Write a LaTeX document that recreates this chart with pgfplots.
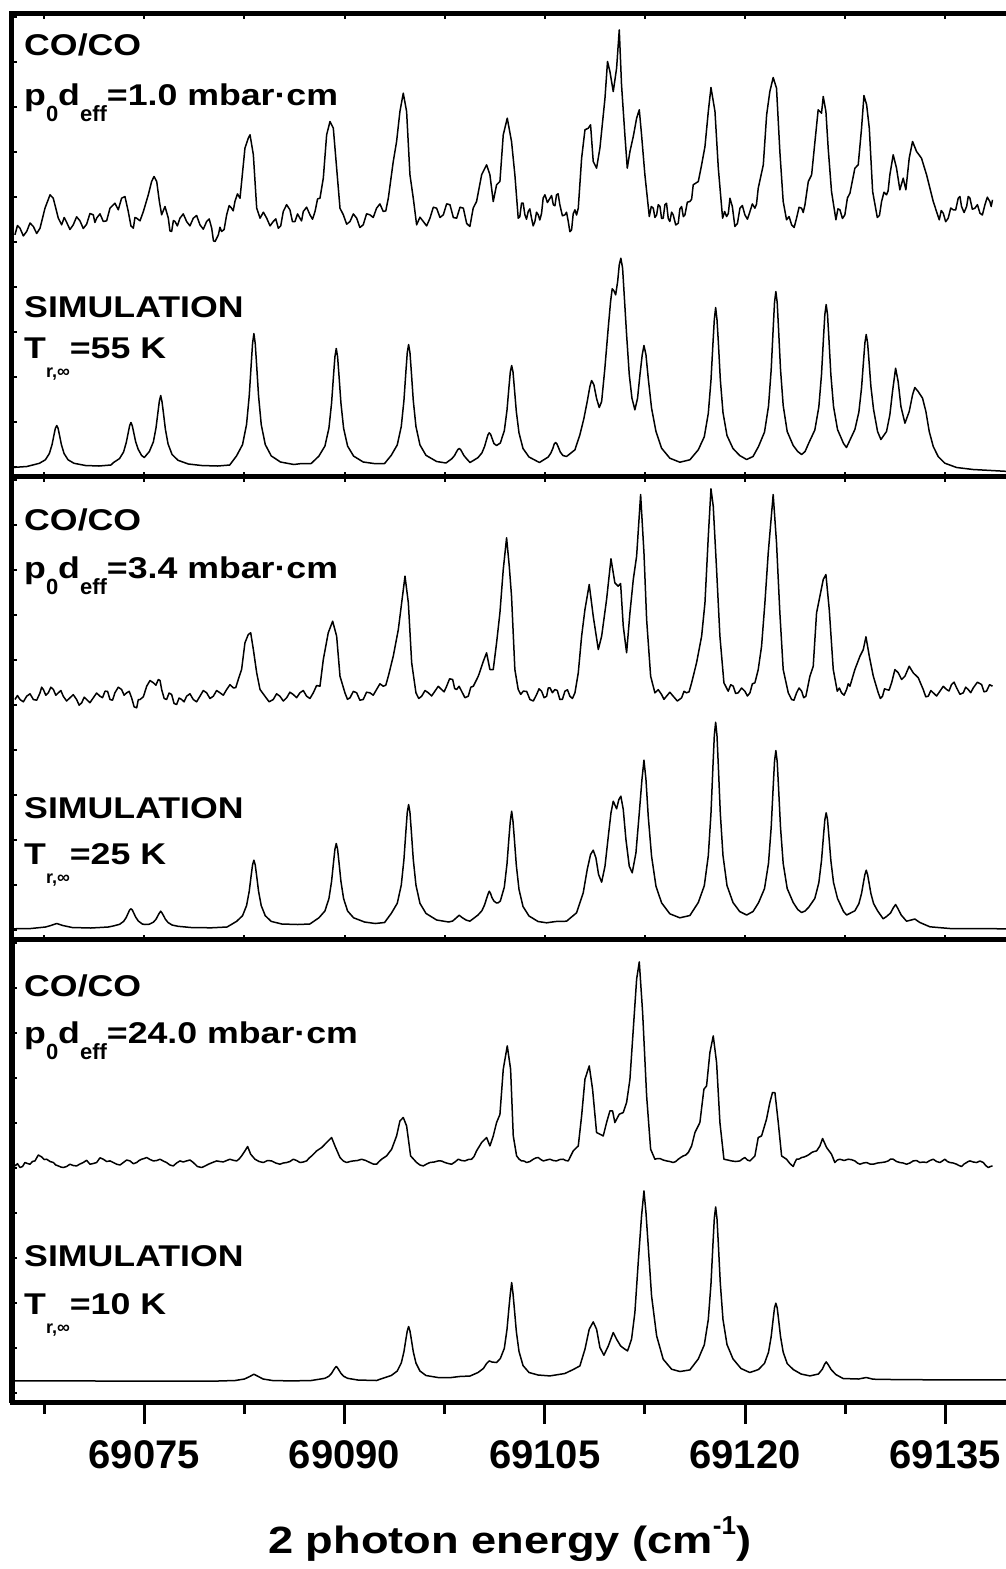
\documentclass[border=0pt]{standalone}
\usepackage{fontspec}
\setmainfont{Liberation Sans}
\usepackage{graphicx}
\usepackage{pgfplots}
\usepackage{pgfplotstable}
\pgfplotsset{compat=1.18}

% x: two-photon energy minus 69000 cm^-1; y: signal, offset for stacking
% --- CO/CO, p0 deff = 1.0 mbar cm
\pgfplotstableread[row sep=\\]{x y\\
65.31 241.7\\ 65.50 251\\ 65.69 248.3\\ 65.94 240.6\\ 66.19 245\\ 66.44 253.5\\ 66.69 250\\ 66.94 243\\ 67.19 248.3\\ 67.56 268.3\\
67.94 281.7\\ 68.18 278.3\\ 68.56 258.3\\ 68.81 251.7\\ 69.00 259\\ 69.18 254.3\\ 69.43 247\\ 69.68 251.7\\ 69.93 259.7\\ 70.18 255.7\\
70.43 248\\ 70.68 252.3\\ 70.93 263\\ 71.18 261.7\\ 71.30 254\\ 71.43 258.3\\ 71.68 262.7\\ 71.93 255\\ 72.18 255.7\\ 72.43 268.3\\
72.80 273.3\\ 73.05 266.7\\ 73.30 278.3\\ 73.55 280\\ 73.80 265\\ 74.00 250.6\\ 74.18 248.3\\ 74.30 259\\ 74.43 258.3\\ 74.68 255.7\\
74.93 265\\ 75.30 281.7\\ 75.55 295\\ 75.73 300\\ 75.93 295\\ 76.13 275\\ 76.30 261.7\\ 76.55 270\\ 76.80 258.3\\ 76.92 245.6\\
77.05 245\\ 77.18 256\\ 77.30 255\\ 77.48 250.6\\ 77.67 258.3\\ 77.92 262.6\\ 78.17 255\\ 78.42 250.6\\ 78.67 258.3\\ 78.92 261\\
79.17 251.7\\ 79.42 247.3\\ 79.67 255\\ 79.86 257.6\\ 80.05 248.3\\ 80.18 235.7\\ 80.30 235\\ 80.55 241.7\\ 80.67 249.3\\ 80.79 245\\
80.98 247\\ 81.17 261.7\\ 81.36 271\\ 81.54 268.3\\ 81.66 265.6\\ 81.79 275\\ 81.98 282.6\\ 82.17 278.3\\ 82.54 328.3\\ 82.79 338.3\\
82.92 341.7\\ 83.17 321.7\\ 83.42 268.3\\ 83.67 258.3\\ 83.92 264.3\\ 84.17 258.3\\ 84.42 250.6\\ 84.66 255\\ 84.85 257.6\\ 85.04 248.3\\
85.22 250.6\\ 85.41 265\\ 85.66 271.8\\ 85.91 266.7\\ 86.10 254.8\\ 86.29 255\\ 86.48 262.6\\ 86.66 258.3\\ 86.78 255.6\\ 86.91 265\\
87.16 269.3\\ 87.41 261.7\\ 87.60 257.3\\ 87.79 265\\ 87.98 277.6\\ 88.16 278.3\\ 88.41 298.3\\ 88.66 341.7\\ 88.91 355\\ 89.16 348.3\\
89.41 308.3\\ 89.66 268.3\\ 89.91 261.7\\ 90.16 252.3\\ 90.41 255\\ 90.66 262.6\\ 90.91 258.3\\ 91.15 249\\ 91.40 251.7\\ 91.65 262.7\\
91.90 261.7\\ 92.15 259\\ 92.40 268.3\\ 92.65 272.6\\ 92.90 265\\ 93.09 265.6\\ 93.28 278.3\\ 93.65 315\\ 93.90 335\\ 94.15 365\\
94.40 383.3\\ 94.65 365\\ 94.90 301.7\\ 95.15 278.3\\ 95.40 251.7\\ 95.65 259.3\\ 95.90 255\\ 96.15 250.6\\ 96.40 258.3\\ 96.65 269.3\\
96.90 268.3\\ 97.15 259\\ 97.40 261.7\\ 97.65 272.7\\ 97.90 271.7\\ 98.15 259\\ 98.40 258.3\\ 98.65 269.3\\ 98.90 268.3\\ 99.15 253\\
99.39 250\\ 99.64 268.5\\ 99.89 275\\ 100.27 301.7\\ 100.64 311.7\\ 100.89 301.7\\ 101.14 275\\ 101.39 291.7\\ 101.64 295\\ 101.89 341.7\\
102.19 358.3\\ 102.51 335\\ 102.76 301.7\\ 103.01 258.3\\ 103.13 259.8\\ 103.26 273.3\\ 103.38 273.5\\ 103.51 261.7\\ 103.63 257.3\\ 103.76 265\\
103.88 267.6\\ 104.01 258.3\\ 104.13 250.6\\ 104.26 255\\ 104.38 264.3\\ 104.51 261.7\\ 104.63 256.5\\ 104.76 263.3\\ 104.88 278.5\\ 105.01 281.7\\
105.20 274\\ 105.39 278.3\\ 105.51 281\\ 105.64 271.7\\ 105.76 270.7\\ 105.88 281.7\\ 106.00 282.7\\ 106.13 271.7\\ 106.32 260.7\\ 106.51 261.7\\
106.63 264.3\\ 106.76 255\\ 106.88 244.8\\ 107.01 246.7\\ 107.13 262.7\\ 107.26 266.7\\ 107.38 261.5\\ 107.51 268.3\\ 107.76 318.3\\ 108.01 346.7\\
108.26 348.3\\ 108.43 351.7\\ 108.63 315\\ 108.88 308.3\\ 109.13 328.3\\ 109.51 378.3\\ 109.70 415\\ 109.88 405\\ 110.13 385\\ 110.38 408.3\\
110.58 446.7\\ 110.75 391.7\\ 111.00 341.7\\ 111.18 308.3\\ 111.38 325\\ 111.63 340\\ 111.88 358.3\\ 112.08 366.7\\ 112.25 341.7\\ 112.50 301.7\\
112.83 260\\ 112.98 270\\ 113.13 268.3\\ 113.25 259\\ 113.38 261.7\\ 113.50 271.8\\ 113.63 270\\ 113.75 258\\ 113.87 258.3\\ 114.00 271.8\\
114.12 273.3\\ 114.25 258\\ 114.37 255\\ 114.50 264.3\\ 114.62 261.7\\ 114.81 251.5\\ 115.00 253.3\\ 115.12 267.6\\ 115.25 270\\ 115.38 259.8\\
115.50 261.7\\ 115.68 274.3\\ 115.87 275\\ 116.00 277.3\\ 116.12 291.7\\ 116.50 295\\ 116.75 311.7\\ 117.00 330\\ 117.25 365\\ 117.45 389\\
117.75 365\\ 118.00 308.3\\ 118.32 258.3\\ 118.47 265\\ 118.62 260\\ 118.75 263\\ 118.87 278.3\\ 119.05 270\\ 119.24 250\\ 119.43 253\\
119.62 268.3\\ 119.80 271\\ 119.99 261.7\\ 120.18 257.3\\ 120.37 265\\ 120.55 272.6\\ 120.74 268.3\\ 120.86 272.3\\ 120.99 288.3\\ 121.37 311.7\\
121.62 361.7\\ 121.86 385\\ 122.11 399\\ 122.36 388.3\\ 122.61 325\\ 122.86 275\\ 123.11 256.7\\ 123.30 260\\ 123.49 251.7\\ 123.68 249\\
123.86 258.3\\ 124.05 269.3\\ 124.24 268.3\\ 124.36 264\\ 124.49 271.7\\ 124.74 295\\ 124.99 301.7\\ 125.24 335\\ 125.48 366.7\\ 125.73 363.3\\
125.86 380\\ 126.06 365\\ 126.23 328.3\\ 126.48 285\\ 126.81 256.7\\ 126.96 267.7\\ 127.11 266.7\\ 127.30 258\\ 127.48 261.7\\ 127.67 278.5\\
127.86 283.3\\ 128.23 308.3\\ 128.48 311.7\\ 128.73 348.3\\ 128.91 381\\ 129.11 371.7\\ 129.31 348.3\\ 129.56 285\\ 129.91 259\\ 130.07 261\\
130.23 275\\ 130.41 284.3\\ 130.60 281.7\\ 130.72 285.7\\ 130.85 301.7\\ 131.10 321.7\\ 131.35 308.3\\ 131.60 286.7\\ 131.85 298.3\\ 132.05 286.7\\
132.30 318.3\\ 132.55 335\\ 132.85 325\\ 133.22 318.3\\ 133.60 301.7\\ 134.10 275\\ 134.55 256.7\\ 134.70 266\\ 134.85 263.3\\ 135.03 254.8\\
135.22 258.3\\ 135.41 268.5\\ 135.60 266.7\\ 135.78 266.5\\ 135.97 278.3\\ 136.10 280\\ 136.22 270\\ 136.41 264\\ 136.60 270\\ 136.72 280\\
136.85 278.3\\ 137.03 267.3\\ 137.22 268.3\\ 137.41 271.8\\ 137.60 263.3\\ 137.78 261.5\\ 137.97 271.7\\ 138.15 279.3\\ 138.34 275\\ 138.44 270\\
138.54 276.7\\
}\expA
% --- simulation, T = 55 K
\pgfplotstableread[row sep=\\]{x y\\
65.10 9\\ 66.20 10\\ 67.14 13.2\\ 67.59 16.7\\ 67.89 23\\ 68.09 31.9\\ 68.24 41.9\\ 68.34 48.3\\ 68.44 51\\ 68.54 48.3\\
68.64 41.9\\ 68.79 31.9\\ 68.99 23\\ 69.29 16.7\\ 69.74 13.2\\ 70.60 11\\ 71.60 10.5\\ 72.50 11.5\\ 72.70 14\\ 73.15 18\\
73.45 24.6\\ 73.65 34\\ 73.80 44\\ 73.90 50.7\\ 74.00 54\\ 74.10 50.8\\ 74.20 44.5\\ 74.35 35\\ 74.55 27\\ 74.80 21\\
75.00 19\\ 75.38 25\\ 75.68 34.6\\ 75.88 48.8\\ 76.03 65\\ 76.13 75.5\\ 76.23 81\\ 76.33 74.5\\ 76.43 64\\ 76.58 47.3\\
76.78 32.6\\ 77.08 22\\ 77.53 16.2\\ 78.30 12.5\\ 79.30 11\\ 80.50 10.5\\ 81.40 11.5\\ 81.91 20.6\\ 82.36 31.9\\ 82.66 52\\
82.86 80.5\\ 83.01 112.5\\ 83.11 132.9\\ 83.21 143\\ 83.31 133\\ 83.41 112.5\\ 83.56 80.5\\ 83.76 52\\ 84.06 32\\ 84.51 20.6\\
85.20 14.5\\ 86.20 12\\ 86.80 13\\ 87.50 13\\ 88.08 20.4\\ 88.53 30.4\\ 88.83 48.3\\ 89.03 73.5\\ 89.18 101.9\\ 89.28 119.8\\
89.38 128\\ 89.48 119.8\\ 89.58 101.9\\ 89.73 73.5\\ 89.93 48.3\\ 90.23 30.4\\ 90.68 20.4\\ 91.40 14.5\\ 92.20 13\\ 93.00 13\\
93.50 21.2\\ 93.95 31.6\\ 94.25 50\\ 94.45 76\\ 94.60 105.5\\ 94.70 124\\ 94.80 132\\ 94.90 124\\ 95.00 105.5\\ 95.15 76\\
95.35 50\\ 95.65 31.6\\ 96.10 21.2\\ 96.90 15\\ 97.60 13.5\\ 98.04 17.8\\ 98.24 21\\ 98.39 24.7\\ 98.49 27\\ 98.59 28\\
98.69 27\\ 98.79 24.7\\ 98.94 21\\ 99.14 17.8\\ 99.40 14\\ 99.99 18.8\\ 100.29 23.6\\ 100.49 30\\ 100.64 37\\ 100.74 41.5\\
100.84 43.7\\ 100.94 42.3\\ 101.04 38.6\\ 101.19 33\\ 101.39 31\\ 101.67 33.5\\ 101.97 45.8\\ 102.17 66.3\\ 102.32 89.8\\ 102.42 104.8\\
102.52 111\\ 102.62 104.5\\ 102.72 88.8\\ 102.87 64.8\\ 103.07 43.6\\ 103.37 28\\ 103.82 19.5\\ 104.60 14\\ 105.26 19.5\\ 105.46 23.6\\
105.61 28.3\\ 105.71 32.6\\ 105.81 34\\ 105.91 32.6\\ 106.01 29.5\\ 106.16 24.5\\ 106.36 21\\ 106.63 20\\ 107.26 26.7\\ 107.63 41.7\\
107.93 58\\ 108.18 75\\ 108.38 90\\ 108.51 96\\ 108.68 91.7\\ 108.88 78\\ 109.08 69\\ 109.26 75\\ 109.50 108\\ 109.75 148\\
109.93 175\\ 110.05 187.7\\ 110.18 185.7\\ 110.31 181.7\\ 110.46 195\\ 110.58 211.7\\ 110.70 218.3\\ 110.83 208.3\\ 110.95 181.7\\ 111.13 141.7\\
111.33 101.7\\ 111.53 78.3\\ 111.75 66.7\\ 111.95 78.3\\ 112.13 101.7\\ 112.30 121.7\\ 112.43 131\\ 112.58 121.7\\ 112.75 98.3\\ 113.00 68.3\\
113.33 45\\ 113.75 28.3\\ 114.37 18.3\\ 115.12 14.3\\ 115.87 16.7\\ 116.50 26.7\\ 116.95 39.8\\ 117.25 63.2\\ 117.45 96.2\\ 117.60 133.4\\
117.70 157\\ 117.80 169\\ 117.90 157\\ 118.00 135\\ 118.15 97\\ 118.35 64\\ 118.65 41\\ 119.10 28\\ 119.60 21\\ 120.12 17\\
120.60 20\\ 121.01 30\\ 121.46 44.4\\ 121.76 70.3\\ 121.96 106.7\\ 122.11 147.9\\ 122.21 174\\ 122.31 185\\ 122.41 174\\ 122.51 148\\
122.66 107\\ 122.86 71\\ 123.16 45\\ 123.61 31\\ 123.95 25\\ 124.24 22\\ 124.50 25\\ 124.78 33.6\\ 125.23 46.5\\ 125.53 69.6\\
125.73 102\\ 125.88 139\\ 125.98 162\\ 126.08 172\\ 126.18 162\\ 126.28 139\\ 126.43 102\\ 126.63 70\\ 126.93 47\\ 127.38 33\\
127.60 29\\ 128.23 47\\ 128.53 64.5\\ 128.73 88.8\\ 128.88 116\\ 128.98 133.6\\ 129.08 142\\ 129.18 134\\ 129.28 117\\ 129.43 90\\
129.63 67\\ 129.93 45\\ 130.18 37\\ 130.60 45\\ 130.85 61.7\\ 131.05 85\\ 131.28 108.3\\ 131.47 95\\ 131.68 70\\ 131.98 53.3\\
132.30 65\\ 132.55 81.7\\ 132.72 89\\ 132.97 85\\ 133.30 78.3\\ 133.55 65\\ 133.80 45\\ 134.10 30\\ 134.47 20\\ 134.97 13.3\\
135.85 9\\ 137.09 7\\ 139.80 5\\
}\simA
% --- CO/CO, p0 deff = 3.4 mbar cm
\pgfplotstableread[row sep=\\]{x y\\
65.31 240\\ 65.50 244\\ 65.69 240\\ 65.94 237.7\\ 66.19 243.3\\ 66.44 245.7\\ 66.69 240\\ 66.94 239.3\\ 67.19 246.7\\ 67.31 252.3\\
67.44 250\\ 67.62 244.3\\ 67.81 246.7\\ 68.00 252.3\\ 68.19 250\\ 68.37 244.3\\ 68.56 246.7\\ 68.75 249\\ 68.93 243.3\\ 69.18 238.5\\
69.43 241.7\\ 69.68 244.8\\ 69.93 240\\ 70.12 234.3\\ 70.31 236.7\\ 70.50 242.3\\ 70.68 240\\ 70.93 236.8\\ 71.18 241.7\\ 71.43 246.5\\
71.68 243.3\\ 71.87 241.8\\ 72.06 248.3\\ 72.25 248.2\\ 72.43 240\\ 72.62 239.3\\ 72.80 246.7\\ 73.05 252.3\\ 73.30 250\\ 73.49 244.3\\
73.68 246.7\\ 73.87 248.2\\ 74.05 241.7\\ 74.24 232.7\\ 74.43 231.7\\ 74.55 239.8\\ 74.68 240\\ 74.93 242.7\\ 75.18 253.3\\ 75.43 259\\
75.68 256.7\\ 75.87 254.3\\ 76.05 260\\ 76.18 259\\ 76.30 250\\ 76.49 241\\ 76.67 240\\ 76.86 246.5\\ 77.05 245\\ 77.23 236\\
77.42 235\\ 77.61 241.5\\ 77.80 240\\ 77.98 237.7\\ 78.17 243.3\\ 78.42 245.7\\ 78.67 240\\ 78.92 237.7\\ 79.17 243.3\\ 79.42 249\\
79.67 246.7\\ 79.92 241\\ 80.17 243.3\\ 80.42 249\\ 80.67 246.7\\ 80.92 244.3\\ 81.17 250\\ 81.42 254.8\\ 81.67 251.7\\ 81.85 251.8\\
82.04 260\\ 82.29 270\\ 82.54 296.7\\ 82.79 305\\ 82.97 306.7\\ 83.17 290\\ 83.42 266.7\\ 83.67 250\\ 84.04 243.3\\ 84.35 237.7\\
84.66 240\\ 84.91 245.7\\ 85.16 243.3\\ 85.41 238.5\\ 85.66 241.7\\ 85.91 247.3\\ 86.16 245\\ 86.41 241.8\\ 86.66 246.7\\ 86.91 249\\
87.16 243.3\\ 87.41 241\\ 87.66 246.7\\ 87.91 254\\ 88.16 253.3\\ 88.41 280\\ 88.78 306.7\\ 89.11 318.3\\ 89.41 303.3\\ 89.66 263.3\\
90.03 246.7\\ 90.22 240.2\\ 90.41 241.7\\ 90.66 248.2\\ 90.91 246.7\\ 91.15 239.3\\ 91.40 240\\ 91.65 247.3\\ 91.90 246.7\\ 92.15 244.3\\
92.40 250\\ 92.65 255.7\\ 92.90 253.3\\ 93.09 254.3\\ 93.28 263.3\\ 93.65 283.3\\ 94.03 310\\ 94.28 336.7\\ 94.53 363.3\\ 94.78 336.7\\
95.03 276.7\\ 95.35 246.7\\ 95.56 241\\ 95.78 243.3\\ 96.03 249\\ 96.28 246.7\\ 96.52 243.5\\ 96.77 248.3\\ 97.02 253.2\\ 97.27 250\\
97.46 247.7\\ 97.65 253.3\\ 97.87 260.7\\ 98.10 260\\ 98.25 251\\ 98.40 250\\ 98.58 253.2\\ 98.77 248.3\\ 99.02 241.8\\ 99.27 243.3\\
99.46 252.3\\ 99.65 253.3\\ 100.02 263.3\\ 100.40 278.3\\ 100.64 286.7\\ 100.89 270\\ 101.14 270\\ 101.39 296.7\\ 101.64 326.7\\ 101.89 370\\
102.14 401.7\\ 102.34 373.3\\ 102.51 343.3\\ 102.76 270\\ 103.01 250\\ 103.20 245.2\\ 103.39 248.3\\ 103.64 248.2\\ 103.89 240\\ 104.14 238.5\\
104.39 245\\ 104.57 250.7\\ 104.76 248.3\\ 104.95 241.8\\ 105.14 243.3\\ 105.26 251.5\\ 105.39 251.7\\ 105.57 246.8\\ 105.76 250\\ 105.94 249\\
106.13 240\\ 106.32 240.2\\ 106.51 248.3\\ 106.70 249.8\\ 106.88 243.3\\ 107.07 241\\ 107.26 246.7\\ 107.51 266.7\\ 107.76 303.3\\ 108.01 330\\
108.33 355\\ 108.63 323.3\\ 109.01 290\\ 109.26 303.3\\ 109.63 340\\ 109.96 380.7\\ 110.25 356.7\\ 110.50 353.3\\ 110.68 356\\ 110.88 313.3\\
111.13 286.7\\ 111.38 326.7\\ 111.63 360\\ 111.88 383.3\\ 112.18 445\\ 112.43 386.7\\ 112.63 320\\ 112.93 263.3\\ 113.25 246.7\\ 113.50 249.8\\
113.75 245\\ 113.93 240.2\\ 114.12 243.3\\ 114.37 247.3\\ 114.62 243.3\\ 114.93 238.5\\ 115.25 241.7\\ 115.43 248.2\\ 115.62 246.7\\ 115.81 247.7\\
116.00 256.7\\ 116.37 276.7\\ 116.75 303.3\\ 117.00 336.7\\ 117.25 403.3\\ 117.45 450.7\\ 117.62 433.3\\ 117.87 370\\ 118.12 303.3\\ 118.42 256.7\\
118.74 248.3\\ 118.93 254.8\\ 119.12 253.3\\ 119.30 246\\ 119.49 246.7\\ 119.74 251.5\\ 119.99 248.3\\ 120.18 243.5\\ 120.37 246.7\\ 120.55 255.7\\
120.74 256.7\\ 120.99 270\\ 121.24 293.3\\ 121.49 336.7\\ 121.74 386.7\\ 122.11 445\\ 122.36 396.7\\ 122.61 326.7\\ 122.86 270\\ 123.24 246.7\\
123.49 240\\ 123.67 239.3\\ 123.86 246.7\\ 124.05 251.5\\ 124.24 248.3\\ 124.40 241.8\\ 124.56 243.3\\ 124.86 263.3\\ 125.11 273.3\\ 125.36 326.7\\
125.61 343.3\\ 125.86 360\\ 126.06 365\\ 126.31 330\\ 126.61 270\\ 126.91 248.3\\ 127.07 251.5\\ 127.23 246.7\\ 127.42 244.3\\ 127.61 250\\
127.73 255.7\\ 127.86 253.3\\ 128.23 270\\ 128.61 283.3\\ 128.86 290\\ 129.06 302.7\\ 129.31 283.3\\ 129.61 263.3\\ 129.98 246.7\\ 130.14 241\\
130.30 243.3\\ 130.45 250.7\\ 130.60 250\\ 130.79 249.3\\ 130.98 256.7\\ 131.23 270\\ 131.48 266.7\\ 131.73 260\\ 131.98 263.3\\ 132.30 273.3\\
132.60 266.7\\ 132.98 261.7\\ 133.35 250\\ 133.54 242.7\\ 133.73 243.3\\ 133.92 249\\ 134.10 246.7\\ 134.35 243.5\\ 134.60 248.3\\ 134.85 253.2\\
135.10 250\\ 135.28 248.5\\ 135.47 255\\ 135.66 257.3\\ 135.85 251.7\\ 136.10 245.2\\ 136.35 246.7\\ 136.53 252.3\\ 136.72 250\\ 136.91 246.8\\
137.10 251.7\\ 137.41 257.3\\ 137.72 255\\ 137.90 247.7\\ 138.09 248.3\\ 138.32 254.8\\ 138.54 253.3\\
}\expB
% --- simulation, T = 25 K
\pgfplotstableread[row sep=\\]{x y\\
65.10 10.7\\ 66.50 11\\ 67.60 12.5\\ 68.00 14\\ 68.44 16\\ 68.90 14\\ 69.60 12\\ 71.00 11.5\\ 72.30 12.5\\ 72.70 13.6\\
73.15 15.2\\ 73.45 18.1\\ 73.65 22.1\\ 73.80 26.6\\ 73.90 29.5\\ 74.00 30.7\\ 74.10 29.6\\ 74.20 26.8\\ 74.35 22.5\\ 74.55 18.5\\
74.85 15.5\\ 75.05 15\\ 75.38 15.3\\ 75.68 17.3\\ 75.88 20.3\\ 76.03 24.1\\ 76.13 26.5\\ 76.23 28.3\\ 76.33 26.5\\ 76.43 24.1\\
76.58 20.3\\ 76.78 17\\ 77.08 14.5\\ 77.53 13.2\\ 78.50 12\\ 80.00 11.7\\ 81.20 12.5\\ 81.91 18.1\\ 82.36 23.8\\ 82.66 33.9\\
82.86 48.2\\ 83.01 64.4\\ 83.11 74.6\\ 83.21 79.3\\ 83.31 74.6\\ 83.41 64.4\\ 83.56 48.2\\ 83.76 33.9\\ 84.06 23.8\\ 84.51 18.1\\
85.30 15.5\\ 86.50 15\\ 87.40 15.5\\ 88.08 21.7\\ 88.53 28.5\\ 88.83 40.9\\ 89.03 58.2\\ 89.18 77.8\\ 89.28 90.2\\ 89.38 96\\
89.48 90.2\\ 89.58 77.8\\ 89.73 58.2\\ 89.93 40.9\\ 90.23 28.5\\ 90.68 21.7\\ 91.50 17.5\\ 92.30 16\\ 93.00 17\\ 93.50 26.1\\
93.95 36.2\\ 94.25 54.4\\ 94.45 80\\ 94.60 108.9\\ 94.70 127.2\\ 94.80 135\\ 94.90 127.2\\ 95.00 108.9\\ 95.15 80\\ 95.35 54.4\\
95.65 36.2\\ 96.10 26.1\\ 96.90 19.5\\ 97.80 17.5\\ 98.10 18.5\\ 98.40 22\\ 98.59 24.3\\ 98.80 22\\ 99.10 19.5\\ 99.39 18.3\\
99.99 24.4\\ 100.29 28.8\\ 100.49 34.6\\ 100.64 41\\ 100.74 45.1\\ 100.84 48.3\\ 100.94 46\\ 101.04 42\\ 101.19 38.5\\ 101.39 36.5\\
101.51 36.7\\ 101.67 38.5\\ 101.97 52.4\\ 102.17 75.7\\ 102.32 102.2\\ 102.42 118.7\\ 102.52 128.3\\ 102.62 118\\ 102.72 101\\ 102.87 74\\
103.07 50\\ 103.37 33\\ 103.82 23.5\\ 104.50 18\\ 105.14 16.7\\ 105.81 18\\ 106.63 18.3\\ 107.38 26.7\\ 107.88 46.7\\ 108.18 70\\
108.43 85\\ 108.63 89.3\\ 108.83 81.7\\ 109.03 65\\ 109.26 57.3\\ 109.51 73.3\\ 109.76 103.3\\ 109.96 126.7\\ 110.13 138.3\\ 110.38 130.7\\
110.55 140\\ 110.70 143.3\\ 110.88 130\\ 111.08 100\\ 111.33 73.3\\ 111.55 66.7\\ 111.83 86.7\\ 112.08 126.7\\ 112.28 160\\ 112.43 179.3\\
112.58 160\\ 112.75 123.3\\ 113.00 83.3\\ 113.33 53.3\\ 113.75 36.7\\ 114.37 25.7\\ 115.12 21.7\\ 115.87 24\\ 116.50 37\\ 116.95 53.8\\
117.25 83.8\\ 117.45 126.1\\ 117.60 173.9\\ 117.70 204.1\\ 117.80 217.3\\ 117.90 204\\ 118.00 174\\ 118.15 126\\ 118.35 84\\ 118.65 54\\
119.10 37\\ 119.60 28\\ 120.12 24.5\\ 120.60 28\\ 121.01 36.7\\ 121.46 50.9\\ 121.76 76.3\\ 121.96 112.1\\ 122.11 152.5\\ 122.21 178.1\\
122.31 189\\ 122.41 178\\ 122.51 152.5\\ 122.66 112\\ 122.86 76\\ 123.16 51\\ 123.61 37\\ 123.95 30\\ 124.24 27\\ 124.50 28.5\\
124.78 32.4\\ 125.23 41.1\\ 125.53 56.8\\ 125.73 79\\ 125.88 104\\ 125.98 119.8\\ 126.08 126.7\\ 126.18 119.8\\ 126.28 104\\ 126.43 79\\
126.63 57\\ 126.93 41\\ 127.38 28\\ 127.61 24.5\\ 128.23 28.7\\ 128.53 35.9\\ 128.73 46.1\\ 128.88 57.6\\ 128.98 64.9\\ 129.08 69.3\\
129.18 65\\ 129.28 57.6\\ 129.43 46\\ 129.63 36\\ 129.93 28.7\\ 130.35 20.7\\ 130.60 23\\ 130.90 26.5\\ 131.10 31.5\\ 131.28 35\\
131.45 31\\ 131.70 24.5\\ 132.10 18.3\\ 132.45 19.5\\ 132.72 20.5\\ 133.10 17\\ 133.85 12.7\\ 135.35 11\\ 139.80 10.7\\
}\simB
% --- CO/CO, p0 deff = 24.0 mbar cm
\pgfplotstableread[row sep=\\]{x y\\
65.31 236.6\\ 65.50 238.8\\ 65.69 235\\ 65.88 236\\ 66.06 240\\ 66.25 239\\ 66.44 238.3\\ 66.62 241\\ 66.81 241.6\\ 67.06 247.5\\
67.31 245.6\\ 67.50 243\\ 67.69 243.3\\ 67.94 241\\ 68.19 240\\ 68.37 237.5\\ 68.56 236.6\\ 68.75 235.5\\ 68.93 235\\ 69.18 236\\
69.43 238.3\\ 69.68 237\\ 69.93 236.6\\ 70.18 238.5\\ 70.43 240\\ 70.68 242.2\\ 70.93 238.3\\ 71.18 239\\ 71.43 240\\ 71.68 244.7\\
71.93 243.3\\ 72.18 241\\ 72.43 241.6\\ 72.68 240\\ 72.93 238.3\\ 73.18 237.5\\ 73.43 240\\ 73.68 242.5\\ 73.93 241.6\\ 74.18 238.8\\
74.43 240\\ 74.61 242\\ 74.80 243.3\\ 74.99 244\\ 75.18 245\\ 75.43 243\\ 75.68 241.6\\ 75.93 242\\ 76.18 243.3\\ 76.42 241.5\\
76.67 240\\ 76.92 237.5\\ 77.17 236.6\\ 77.42 239.5\\ 77.67 241.6\\ 77.92 240.5\\ 78.17 241.6\\ 78.42 242.5\\ 78.67 240\\ 78.98 236\\
79.30 235\\ 79.55 236.5\\ 79.80 238.3\\ 80.11 240\\ 80.42 241.6\\ 80.67 241\\ 80.92 240.6\\ 81.17 242\\ 81.42 243.3\\ 81.67 242.2\\
81.92 241.6\\ 82.10 243.5\\ 82.29 246.6\\ 82.54 251.6\\ 82.74 256\\ 82.97 248.3\\ 83.29 243.3\\ 83.60 241\\ 83.92 240\\ 84.23 242\\
84.54 241.6\\ 84.85 239.5\\ 85.16 238.3\\ 85.41 239.5\\ 85.66 240\\ 85.91 241\\ 86.16 243.3\\ 86.41 242\\ 86.66 240\\ 86.91 240.5\\
87.16 241.6\\ 87.35 244.5\\ 87.54 246.6\\ 87.91 251.6\\ 88.29 255\\ 88.66 260\\ 89.03 265\\ 89.28 256.6\\ 89.66 245\\ 89.91 241.5\\
90.16 240\\ 90.41 241\\ 90.66 241.6\\ 90.97 242\\ 91.28 243.3\\ 91.59 242\\ 91.90 240\\ 92.15 238.5\\ 92.40 238.3\\ 92.59 241\\
92.78 243.3\\ 93.15 246.6\\ 93.53 253.3\\ 93.90 266.6\\ 94.15 281.6\\ 94.40 285\\ 94.65 276.6\\ 94.95 246.6\\ 95.40 240\\ 95.65 237.5\\
95.90 236.6\\ 96.15 238.5\\ 96.40 240\\ 96.71 240.5\\ 97.02 241.6\\ 97.27 241.5\\ 97.52 240\\ 97.77 239\\ 98.02 238.3\\ 98.27 240.5\\
98.52 243.3\\ 98.77 242\\ 99.02 241.6\\ 99.27 243\\ 99.52 243.3\\ 99.70 246\\ 99.89 251.6\\ 100.27 260\\ 100.64 265\\ 100.89 256.6\\
101.14 266.6\\ 101.39 280\\ 101.64 288\\ 101.89 333.3\\ 102.19 356.6\\ 102.44 333.3\\ 102.64 266.6\\ 102.89 246.6\\ 103.07 243.5\\ 103.26 241.6\\
103.45 241.5\\ 103.64 240\\ 103.89 241\\ 104.14 243.3\\ 104.32 244.5\\ 104.51 245\\ 104.70 243\\ 104.89 241.6\\ 105.14 242.5\\ 105.39 243.3\\
105.63 242\\ 105.88 241.6\\ 106.13 243\\ 106.38 243.3\\ 106.57 242\\ 106.76 241.6\\ 107.13 251.6\\ 107.51 256.6\\ 107.76 286.6\\ 108.01 323.3\\
108.33 336.6\\ 108.58 313.3\\ 108.88 270\\ 109.13 268.3\\ 109.38 266.6\\ 109.63 280\\ 109.88 291.6\\ 110.08 291.6\\ 110.25 280\\ 110.58 288.3\\
110.88 290\\ 111.13 300\\ 111.38 323.3\\ 111.63 373.3\\ 111.88 423.3\\ 112.08 440.6\\ 112.33 390\\ 112.63 306.6\\ 112.93 253.3\\ 113.25 243.3\\
113.44 244\\ 113.63 244\\ 113.87 242.5\\ 114.12 241.6\\ 114.37 241\\ 114.62 240\\ 114.81 241\\ 115.00 243.3\\ 115.18 245\\ 115.37 246.6\\
115.56 247.5\\ 115.75 250\\ 116.00 256.6\\ 116.25 270\\ 116.62 280\\ 116.92 313.3\\ 117.12 316.6\\ 117.37 350\\ 117.62 366.6\\ 117.87 340\\
118.12 280\\ 118.42 243.3\\ 118.70 242.5\\ 118.99 241.6\\ 119.30 241\\ 119.62 241.6\\ 119.80 243.5\\ 119.99 245\\ 120.18 242.5\\ 120.37 241.6\\
120.55 244\\ 120.74 246.6\\ 120.99 265\\ 121.24 266.6\\ 121.61 283.3\\ 121.86 300\\ 122.06 310\\ 122.24 310\\ 122.49 280\\ 122.74 246.6\\
123.11 243.3\\ 123.36 239\\ 123.61 236\\ 123.73 240\\ 123.86 243.3\\ 124.05 243.5\\ 124.24 245\\ 124.42 245.5\\ 124.61 246.6\\ 124.80 248\\
124.99 250\\ 125.17 251\\ 125.36 251.6\\ 125.61 256.6\\ 125.81 264\\ 126.11 255\\ 126.48 248.3\\ 126.73 240\\ 126.92 242.5\\ 127.11 243.3\\
127.42 242\\ 127.73 243.3\\ 127.98 242.8\\ 128.23 241.6\\ 128.42 239.5\\ 128.61 238.3\\ 128.86 239.5\\ 129.11 240\\ 129.36 238.5\\ 129.61 238.3\\
129.92 239.5\\ 130.23 240\\ 130.48 240.5\\ 130.73 241.6\\ 130.91 243.5\\ 131.10 243.3\\ 131.35 241\\ 131.60 240\\ 131.85 239.5\\ 132.10 238.3\\
132.35 239.5\\ 132.60 241.6\\ 132.85 242\\ 133.10 240\\ 133.35 240.5\\ 133.60 240\\ 133.85 242\\ 134.10 243.3\\ 134.35 241\\ 134.60 240\\
134.78 241.5\\ 134.97 243.3\\ 135.16 241\\ 135.35 240\\ 135.60 239.5\\ 135.85 238.3\\ 136.03 237\\ 136.22 236\\ 136.41 238.5\\ 136.60 240\\
136.72 241\\ 136.85 241.6\\ 137.10 240.5\\ 137.35 240\\ 137.60 241.5\\ 137.85 240\\ 138.03 237\\ 138.22 235\\ 138.38 236\\ 138.54 236.6\\
}\expC
% --- simulation, T = 10 K
\pgfplotstableread[row sep=\\]{x y\\
65.10 21.6\\ 70.00 21.6\\ 75.00 21.3\\ 80.00 21.3\\ 81.80 22\\ 82.50 23.5\\ 82.90 26\\ 83.21 28.3\\ 83.50 26.3\\ 83.90 23.5\\
84.60 22\\ 86.00 21.6\\ 87.50 22\\ 88.53 24.2\\ 88.83 26.3\\ 89.03 29.2\\ 89.18 32.5\\ 89.28 34.6\\ 89.38 36\\ 89.48 34.6\\
89.58 32.5\\ 89.73 29.2\\ 89.93 26.3\\ 90.23 24.2\\ 91.00 22.5\\ 92.40 22\\ 92.60 23\\ 93.50 27\\ 93.95 31.5\\ 94.25 39.5\\
94.45 50.8\\ 94.60 63.5\\ 94.70 71.6\\ 94.80 76\\ 94.90 71.6\\ 95.00 63.5\\ 95.15 50.8\\ 95.35 39.5\\ 95.65 31.5\\ 96.10 27\\
97.00 25\\ 98.00 25\\ 98.60 26\\ 99.40 26.5\\ 100.00 30\\ 100.40 34\\ 100.64 39\\ 100.84 41.6\\ 101.05 40.5\\ 101.39 40\\
101.67 44\\ 101.97 54.2\\ 102.17 73.1\\ 102.32 95.2\\ 102.42 108.9\\ 102.52 120\\ 102.62 109\\ 102.72 94\\ 102.87 71\\ 103.07 51\\
103.37 37\\ 103.82 30\\ 104.50 27.5\\ 105.38 26.6\\ 106.50 29\\ 107.13 33\\ 107.63 36.6\\ 108.01 53.3\\ 108.33 73.3\\ 108.63 80.6\\
108.88 73.3\\ 109.13 55\\ 109.43 47.3\\ 109.76 56.6\\ 110.13 70\\ 110.38 63.3\\ 110.68 56.6\\ 110.93 54\\ 111.20 51.6\\ 111.50 63.3\\
111.75 90\\ 112.00 140\\ 112.25 186.6\\ 112.43 211.6\\ 112.58 190\\ 112.75 156.6\\ 113.00 106.6\\ 113.38 66.6\\ 113.87 43.3\\ 114.50 33.3\\
115.12 31\\ 115.87 32.6\\ 116.50 43.6\\ 116.95 57.7\\ 117.25 83\\ 117.45 118.6\\ 117.60 158.8\\ 117.70 184.2\\ 117.80 195.6\\ 117.90 184\\
118.00 159\\ 118.15 119\\ 118.35 83\\ 118.65 58\\ 119.10 43.6\\ 119.70 34\\ 120.36 30\\ 121.01 33\\ 121.46 39.2\\ 121.76 50.3\\
121.96 65.9\\ 122.11 83.6\\ 122.21 94.7\\ 122.31 99.3\\ 122.41 94.7\\ 122.51 83.6\\ 122.66 66\\ 122.86 50.3\\ 123.16 39\\ 123.61 33\\
124.20 28.5\\ 124.86 26.6\\ 125.50 28.5\\ 125.80 33.5\\ 125.95 38\\ 126.08 40.6\\ 126.20 38.5\\ 126.45 33\\ 126.80 28\\ 127.35 24\\
128.50 23.5\\ 129.08 25\\ 129.60 23.3\\ 131.00 23\\ 135.00 22.6\\ 139.80 22.6\\
}\simC

\pgfplotsset{
  panel/.style={
    scale only axis, width=998pt, height=463pt,
    xmin=65.09, xmax=139.85, ymin=0, ymax=463,
    axis line style={line width=5pt},
    xtick={67.5,75,82.5,90,97.5,105,112.5,120,127.5,135}, xticklabels={},
    ytick={10,55,...,460}, yticklabels={}, ytick pos=left,
    tick align=inside, major tick length=5pt,
    tick style={black, line width=2pt},
  },
  trace/.style={black, line width=1.5pt, line join=round, no marks},
}

\newcommand\wide[1]{\scalebox{1.19}[1]{#1}}
\newcommand\lbl[1]{\wide{\fontsize{30}{36}\selectfont\bfseries #1}}
\newcommand\lsub[1]{\raisebox{-16pt}{\fontsize{22}{24}\selectfont\bfseries #1}}
\newcommand\tsub[1]{\raisebox{-19pt}{\fontsize{18}{20}\selectfont\bfseries #1}}

\begin{document}
\begin{tikzpicture}
\path[use as bounding box] (0pt,0pt) rectangle (1006pt,-1569pt);

\begin{axis}[panel, at={(12pt,-13.5pt)}, anchor=north west]
  \addplot[trace] table {\expA};
  \addplot[trace] table {\simA};
\end{axis}

\begin{axis}[panel, at={(12pt,-476.5pt)}, anchor=north west]
  \addplot[trace] table {\expB};
  \addplot[trace] table {\simB};
\end{axis}

\begin{axis}[panel, at={(12pt,-939.5pt)}, anchor=north west,
    xtick={75,90,105,120,135},
    minor xtick={67.5,82.5,97.5,112.5,127.5},
    xticklabels={69075,69090,69105,69120,69135},
    xtick pos=left, tick align=outside,
    major tick length=21pt, minor tick length=11pt,
    major tick style={line width=3pt}, minor tick style={line width=3pt},
    ytick=\empty,
    xticklabel style={font=\fontsize{40}{48}\selectfont\bfseries, yshift=-14pt},
  ]
  \addplot[trace] table {\expC};
  \addplot[trace] table {\simC};
\end{axis}
% inward ticks on the left edge of the lowest panel
\begin{axis}[scale only axis, width=998pt, height=463pt,
    at={(12pt,-939.5pt)}, anchor=north west,
    xmin=65.09, xmax=139.85, ymin=0, ymax=463, hide x axis,
    axis line style={line width=5pt},
    ytick={10,55,...,460}, yticklabels={}, ytick pos=left,
    tick align=inside, major tick length=5pt,
    tick style={black, line width=2pt}]
\end{axis}

% panel captions
\begin{scope}[every node/.style={anchor=base west, inner sep=0pt}]
\node at (24pt,-55pt)   {\lbl{CO/CO}};
\node at (24pt,-105pt)  {\lbl{p}\lsub{0}\lbl{d}\lsub{eff}\lbl{=1.0 mbar·cm}};
\node at (24pt,-317pt)  {\lbl{SIMULATION}};
\node at (24pt,-358pt)  {\lbl{T}\tsub{r,∞}\lbl{=55 K}};
\node at (24pt,-530pt)  {\lbl{CO/CO}};
\node at (24pt,-578pt)  {\lbl{p}\lsub{0}\lbl{d}\lsub{eff}\lbl{=3.4 mbar·cm}};
\node at (24pt,-818pt)  {\lbl{SIMULATION}};
\node at (24pt,-864pt)  {\lbl{T}\tsub{r,∞}\lbl{=25 K}};
\node at (24pt,-996pt)  {\lbl{CO/CO}};
\node at (24pt,-1043pt) {\lbl{p}\lsub{0}\lbl{d}\lsub{eff}\lbl{=24.0 mbar·cm}};
\node at (24pt,-1266pt) {\lbl{SIMULATION}};
\node at (24pt,-1314pt) {\lbl{T}\tsub{r,∞}\lbl{=10 K}};
\node at (268pt,-1553pt) {\wide{\fontsize{38}{44}\selectfont\bfseries 2 photon energy (cm}\raisebox{19pt}{\fontsize{26}{28}\selectfont\bfseries -1}\wide{\fontsize{38}{44}\selectfont\bfseries )}};
\end{scope}
\end{tikzpicture}
\end{document}
